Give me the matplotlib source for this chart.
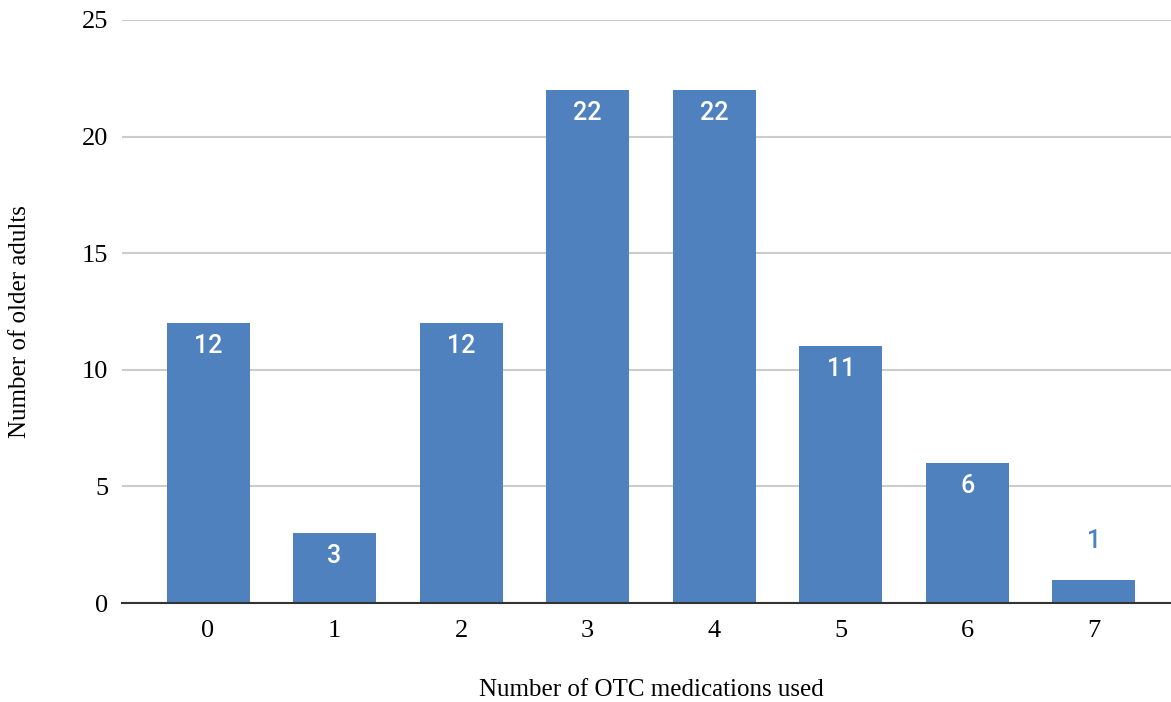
import matplotlib.pyplot as plt

# number of OTC medications vs. number of older adults
meds = [0, 1, 2, 3, 4, 5, 6, 7]
counts = [12, 3, 12, 22, 22, 11, 6, 1]

bar_color = '#4e81bd'

fig = plt.figure(figsize=(11.71, 7.02), dpi=100)
ax = fig.add_axes([122 / 1171, 1 - 603 / 702, 1 - 122 / 1171, (603 - 20) / 702])

bars = ax.bar(meds, counts, width=0.656, color=bar_color, zorder=3)

for x, v in zip(meds, counts):
    if v >= 3:
        ax.annotate(str(v), (x, v), xytext=(0, -16.5), textcoords='offset points',
                    ha='center', va='center', color='white', fontsize=18,
                    family='Roboto', fontweight='medium', zorder=4)
    else:
        ax.annotate(str(v), (x, v), xytext=(0, 28), textcoords='offset points',
                    ha='center', va='center', color=bar_color, fontsize=18,
                    family='Roboto', fontweight='medium', zorder=4)

ax.set_xlim(-0.68, 7.61)
ax.set_ylim(0, 25)
ax.set_yticks([0, 5, 10, 15, 20, 25])
ax.set_xticks(meds)

ax.yaxis.grid(True, color='#cccccc', linewidth=1.5, zorder=0)
ax.tick_params(length=0, labelsize=19)
ax.tick_params(axis='y', pad=10)
ax.tick_params(axis='x', pad=12)
for lab in ax.get_xticklabels() + ax.get_yticklabels():
    lab.set_family('Liberation Serif')

for side in ['top', 'right', 'left']:
    ax.spines[side].set_visible(False)
ax.spines['bottom'].set_color('#333333')
ax.spines['bottom'].set_linewidth(1.5)
ax.spines['bottom'].set_zorder(5)

fig.text(651 / 1171, 1 - 690 / 702, 'Number of OTC medications used',
         ha='center', va='center', fontsize=18, family='Liberation Serif')
fig.text(20 / 1171, 1 - 322 / 702, 'Number of older adults', rotation=90,
         ha='center', va='center', fontsize=18, family='Liberation Serif')

fig.savefig('out.png', dpi=100)
